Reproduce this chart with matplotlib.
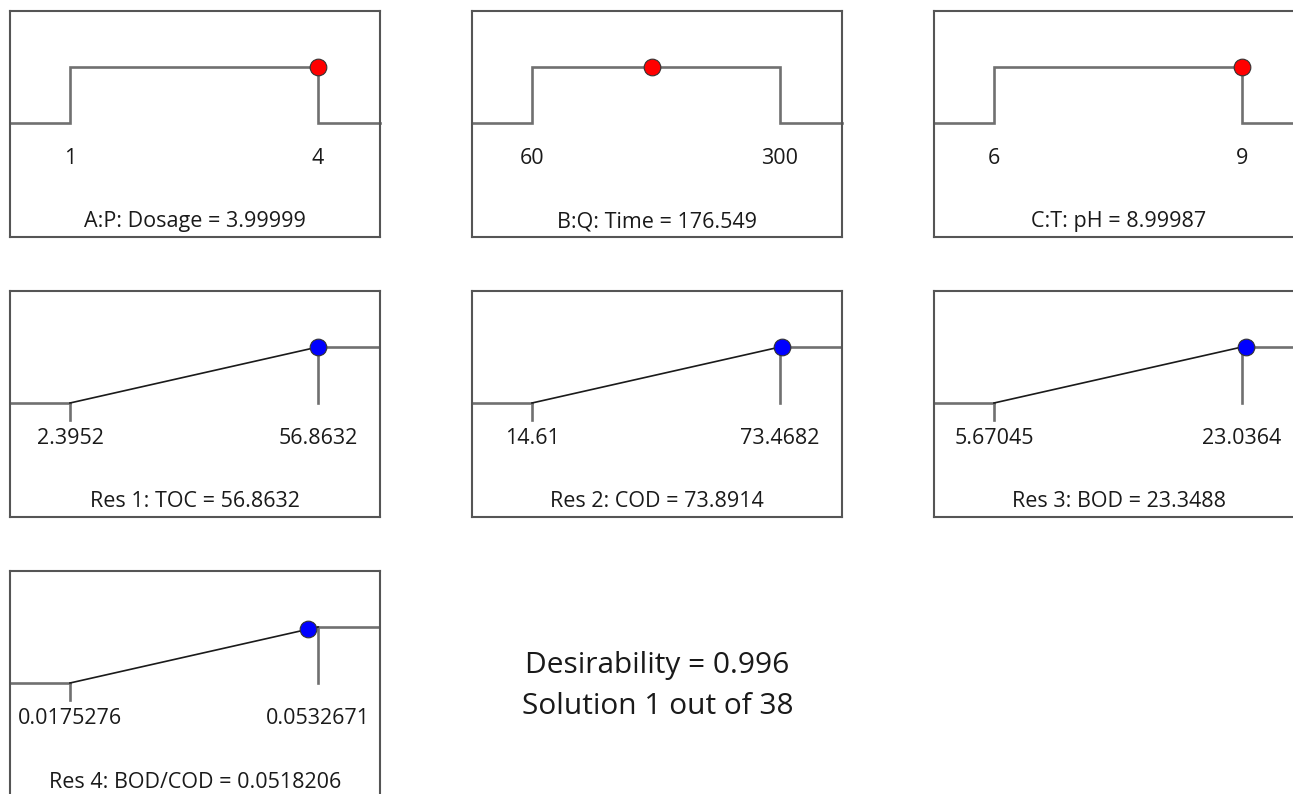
import matplotlib
matplotlib.use("Agg")
import matplotlib.pyplot as plt

plt.rcParams['font.family'] = ['Open Sans', 'DejaVu Sans']

# factors (in-range goal)
factor_names = ["A:P: Dosage", "B:Q: Time", "C:T: pH"]
factor_low = [1, 60, 6]
factor_high = [4, 300, 9]
factor_value = [3.99999, 176.549, 8.99987]

# responses (maximize goal)
response_names = ["Res 1: TOC", "Res 2: COD", "Res 3: BOD", "Res 4: BOD/COD"]
response_low = [2.3952, 14.61, 5.67045, 0.0175276]
response_high = [56.8632, 73.4682, 23.0364, 0.0532671]
response_value = [56.8632, 73.8914, 23.3488, 0.0518206]

desirability = 0.996
solution = 1
n_solutions = 38

W, H = 1293, 794
fig = plt.figure(figsize=(W / 100, H / 100), dpi=100)

box_w, box_h = 370, 226
col_left = [10, 472, 934]
row_top = [11, 291, 571]

step_color = '#707070'
frame_color = '#555555'
text_color = '#1a1a1a'
fs = 15.5


def make_axes(col, row, lo, hi):
    left = col_left[col]
    top = row_top[row]
    ax = fig.add_axes([left / W, 1 - (top + box_h) / H, box_w / W, box_h / H])
    span = hi - lo
    x0 = lo - 60 / 248 * span
    x1 = hi + 62 / 248 * span
    ax.set_xlim(x0, x1)
    ax.set_ylim(-114 / 56, (box_h - 170) / 56 + 1)
    ax.set_xticks([])
    ax.set_yticks([])
    for s in ax.spines.values():
        s.set_color(frame_color)
        s.set_linewidth(1.5)
    return ax, x0, x1


def labels(ax, lo, hi, name, value):
    tr = ax.get_xaxis_transform()
    ax.text(lo, 78 / box_h, f"{lo:g}", transform=tr, ha='center', va='center',
            fontsize=fs, color=text_color)
    ax.text(hi, 78 / box_h, f"{hi:g}", transform=tr, ha='center', va='center',
            fontsize=fs, color=text_color)
    ax.text(0.5, 15 / box_h, f"{name} = {value:g}", transform=ax.transAxes,
            ha='center', va='center', fontsize=fs, color=text_color)


# factor panels
for i in range(len(factor_names)):
    lo, hi, v = factor_low[i], factor_high[i], factor_value[i]
    ax, x0, x1 = make_axes(i, 0, lo, hi)
    ax.plot([x0, lo, lo, hi, hi, x1], [0, 0, 1, 1, 0, 0], color=step_color,
            lw=1.9, solid_joinstyle='miter', clip_on=False)
    ax.plot([v], [1], 'o', ms=12, mfc='#ff0000', mec='#333333', mew=0.8, zorder=5)
    labels(ax, lo, hi, factor_names[i], v)

# response panels
for j in range(len(response_names)):
    lo, hi, v = response_low[j], response_high[j], response_value[j]
    col, row = [(0, 1), (1, 1), (2, 1), (0, 2)][j]
    ax, x0, x1 = make_axes(col, row, lo, hi)
    ax.plot([x0, lo], [0, 0], color=step_color, lw=1.9)
    ax.plot([lo, lo], [0, -0.3], color=step_color, lw=1.9)
    ax.plot([hi, x1], [1, 1], color=step_color, lw=1.9)
    ax.plot([hi, hi], [1, 0], color=step_color, lw=1.9)
    ax.plot([lo, hi], [0, 1], color='#1a1a1a', lw=1.2)
    d = min(1.0, max(0.0, (v - lo) / (hi - lo)))
    ax.plot([v], [d], 'o', ms=12, mfc='#0000ff', mec='#333333', mew=0.8, zorder=5)
    labels(ax, lo, hi, response_names[j], v)

fig.text(657 / W, 1 - 666 / H, f"Desirability = {desirability:g}", ha='center',
         va='center', fontsize=21.5, color=text_color)
fig.text(658 / W, 1 - 706 / H, f"Solution {solution} out of {n_solutions}",
         ha='center', va='center', fontsize=21.5, color=text_color)

fig.savefig("out.png", dpi=100, facecolor='white')
